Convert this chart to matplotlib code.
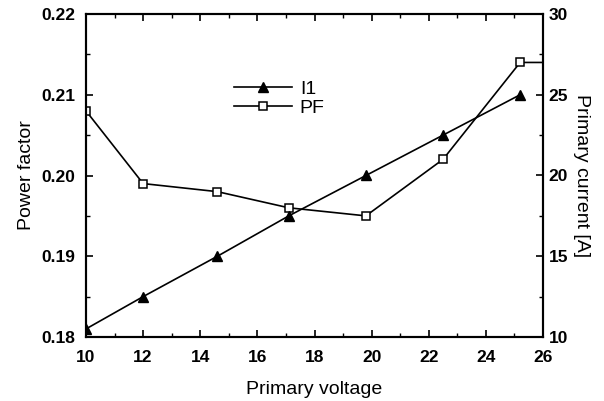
import matplotlib
matplotlib.use("Agg")
import matplotlib.pyplot as plt
from matplotlib.ticker import MultipleLocator

plt.rcParams["font.family"] = ["Liberation Sans", "DejaVu Sans"]

# primary voltage points
voltage = [10, 12, 14.6, 17.1, 19.8, 22.5, 25.2]
# primary current [A] (right axis)
current = [10.5, 12.5, 15.0, 17.5, 20.0, 22.5, 25.0]
# power factor (left axis); last value runs past the right edge
pf_voltage = [10, 12, 14.6, 17.1, 19.8, 22.5, 25.2, 27]
power_factor = [0.208, 0.199, 0.198, 0.196, 0.195, 0.202, 0.214, 0.214]

fig = plt.figure(figsize=(6.04, 4.01), dpi=100)
ax = fig.add_axes([86 / 604, 1 - 337 / 401, 457 / 604, 323 / 401])
ax2 = ax.twinx()

(l_pf,) = ax.plot(pf_voltage, power_factor, color="black", lw=1.2, marker="s",
                  ms=5.5, mfc="white", mec="black", mew=1.1)
(l_i1,) = ax2.plot(voltage, current, color="black", lw=1.2, marker="^",
                   ms=7, mfc="black", mec="black")

ax.set_xlim(10, 26)
ax.set_ylim(0.18, 0.22)
ax2.set_ylim(10, 30)

ax.xaxis.set_major_locator(MultipleLocator(2))
ax.xaxis.set_minor_locator(MultipleLocator(1))
ax.yaxis.set_major_locator(MultipleLocator(0.01))
ax.yaxis.set_minor_locator(MultipleLocator(0.005))
ax2.yaxis.set_major_locator(MultipleLocator(5))
ax2.yaxis.set_minor_locator(MultipleLocator(2.5))
ax.yaxis.set_major_formatter(matplotlib.ticker.FormatStrFormatter("%.2f"))

ax.tick_params(axis="x", which="both", direction="in", top=True, labelsize=12.5, pad=9)
ax.tick_params(axis="y", which="both", direction="in", right=False, labelsize=12.5, pad=8)
ax.tick_params(which="major", length=5, width=1.2)
ax.tick_params(which="minor", length=3, width=1)
ax2.tick_params(axis="y", which="major", direction="in", length=5, width=1.2,
                labelsize=12.5, pad=4)
ax2.tick_params(axis="y", which="minor", direction="in", length=3, width=1)
for lbl in ax.get_xticklabels() + ax.get_yticklabels() + ax2.get_yticklabels():
    lbl.set_fontweight("bold")

for a in (ax, ax2):
    for s in a.spines.values():
        s.set_linewidth(1.5)

ax.set_xlabel("Primary voltage", fontsize=14, labelpad=12)
ax.set_ylabel("Power factor", fontsize=14, labelpad=4)
ax2.set_ylabel("Primary current [A]", fontsize=14, rotation=270, labelpad=16)

ax.legend([l_i1, l_pf], ["I1", "PF"], loc="upper left",
          bbox_to_anchor=(0.285, 0.85), frameon=False, fontsize=14,
          handlelength=3.0, handletextpad=0.4, labelspacing=0.1)

fig.savefig("out.png", dpi=100)
